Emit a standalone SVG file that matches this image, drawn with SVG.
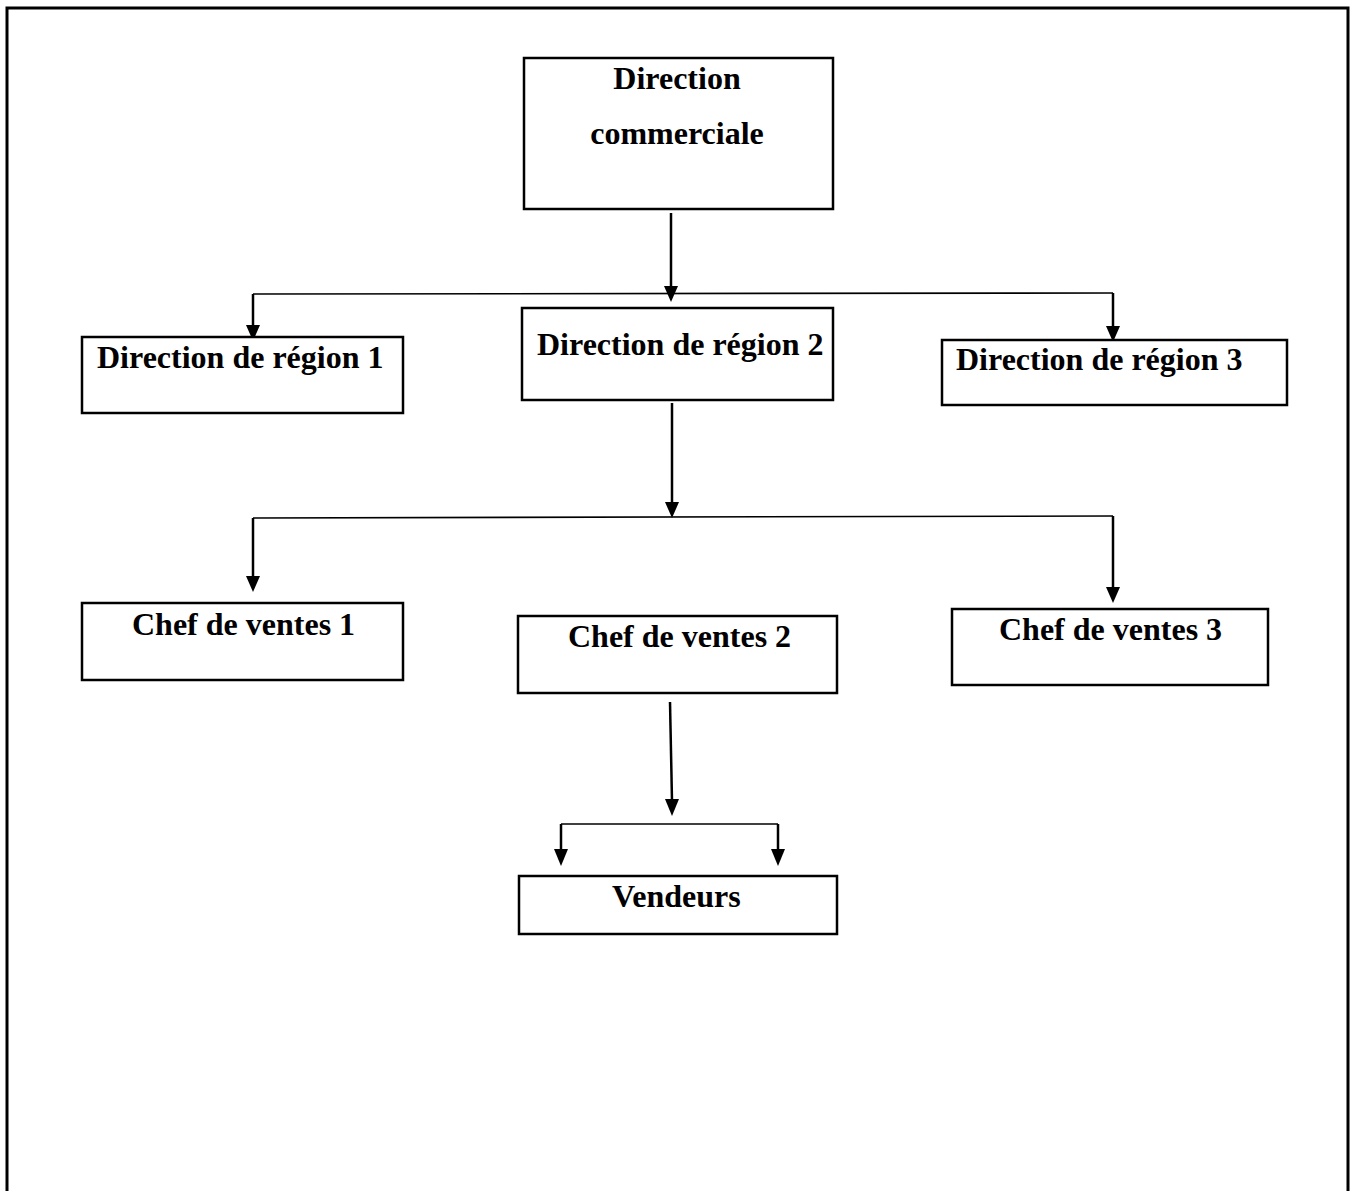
<svg xmlns="http://www.w3.org/2000/svg" width="1355" height="1191" viewBox="0 0 1355 1191">
  <style>
    .box { fill: #ffffff; stroke: #000000; stroke-width: 2.5; }
    .lbl { font-family: "Liberation Serif", "Times New Roman", serif; font-weight: bold; font-size: 32px; fill: #000000; }
    .stem { stroke: #000000; stroke-width: 2.5; fill: none; }
    .bar { stroke: #000000; stroke-width: 1.6; fill: none; }
    .head { fill: #000000; }
    .frame { fill: none; stroke: #000000; stroke-width: 3; }
  </style>

  <!-- page frame, open at the bottom -->
  <path class="frame" d="M7,1191 L7,8 L1348,8 L1348,1191"/>

  <g id="connectors">
    <!-- Direction commerciale to regions -->
    <line class="stem" x1="671" y1="213" x2="671" y2="288"/>
    <polygon class="head" points="664,286 678,286 671,302"/>
    <line class="bar" x1="253" y1="294" x2="1113" y2="293"/>
    <line class="stem" x1="253" y1="294" x2="253" y2="327"/>
    <polygon class="head" points="246,325 260,325 253,341"/>
    <line class="stem" x1="1113" y1="293" x2="1113" y2="328"/>
    <polygon class="head" points="1106,326 1120,326 1113,342"/>

    <!-- Direction de région 2 to sales managers -->
    <line class="stem" x1="672" y1="403" x2="672" y2="504"/>
    <polygon class="head" points="665,502 679,502 672,518"/>
    <line class="bar" x1="253" y1="518" x2="1113" y2="516"/>
    <line class="stem" x1="253" y1="518" x2="253" y2="578"/>
    <polygon class="head" points="246,576 260,576 253,592"/>
    <line class="stem" x1="1113" y1="516" x2="1113" y2="589"/>
    <polygon class="head" points="1106,587 1120,587 1113,603"/>

    <!-- Chef de ventes 2 to Vendeurs -->
    <line class="stem" x1="670" y1="702" x2="672" y2="801"/>
    <polygon class="head" points="665,799 679,799 672,816"/>
    <line class="bar" x1="561" y1="824" x2="778" y2="824"/>
    <line class="stem" x1="561" y1="824" x2="561" y2="851"/>
    <polygon class="head" points="554,849 568,849 561,866"/>
    <line class="stem" x1="778" y1="824" x2="778" y2="851"/>
    <polygon class="head" points="771,849 785,849 778,866"/>
  </g>

  <g id="direction-commerciale">
    <rect class="box" x="524" y="58" width="309" height="151"/>
    <text class="lbl" x="677" y="89" text-anchor="middle">Direction</text>
    <text class="lbl" x="677" y="144" text-anchor="middle">commerciale</text>
  </g>

  <g id="direction-region-1">
    <rect class="box" x="82" y="337" width="321" height="76"/>
    <text class="lbl" x="97" y="368">Direction de région 1</text>
  </g>

  <g id="direction-region-2">
    <rect class="box" x="522" y="308" width="311" height="92"/>
    <text class="lbl" x="537" y="355">Direction de région 2</text>
  </g>

  <g id="direction-region-3">
    <rect class="box" x="942" y="340" width="345" height="65"/>
    <text class="lbl" x="956" y="370">Direction de région 3</text>
  </g>

  <g id="chef-ventes-1">
    <rect class="box" x="82" y="603" width="321" height="77"/>
    <text class="lbl" x="132" y="635">Chef de ventes 1</text>
  </g>

  <g id="chef-ventes-2">
    <rect class="box" x="518" y="616" width="319" height="77"/>
    <text class="lbl" x="568" y="647">Chef de ventes 2</text>
  </g>

  <g id="chef-ventes-3">
    <rect class="box" x="952" y="609" width="316" height="76"/>
    <text class="lbl" x="999" y="640">Chef de ventes 3</text>
  </g>

  <g id="vendeurs">
    <rect class="box" x="519" y="876" width="318" height="58"/>
    <text class="lbl" x="612" y="907">Vendeurs</text>
  </g>
</svg>
